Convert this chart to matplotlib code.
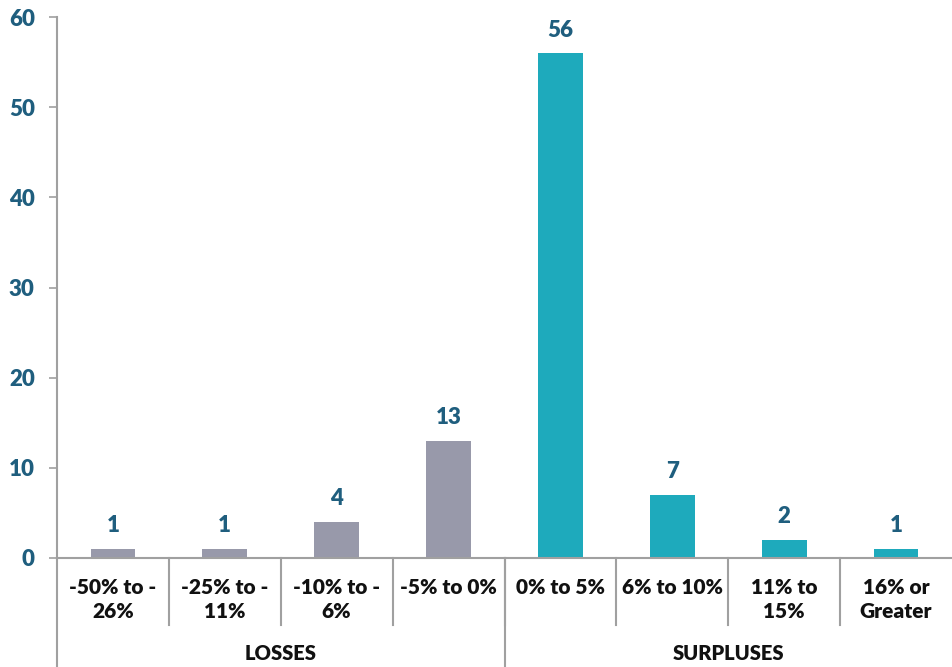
import matplotlib
matplotlib.use("Agg")
import matplotlib.pyplot as plt
from matplotlib.transforms import blended_transform_factory

categories = ["-50% to -\n26%", "-25% to -\n11%", "-10% to -\n6%", "-5% to 0%",
              "0% to 5%", "6% to 10%", "11% to\n15%", "16% or\nGreater"]
values = [1, 1, 4, 13, 56, 7, 2, 1]
groups = ["LOSSES", "SURPLUSES"]
group_sizes = [4, 4]
yticks = [0, 10, 20, 30, 40, 50, 60]

loss_color = "#9899AA"
surplus_color = "#1EAABC"
label_color = "#1F5E7E"
line_color = "#A0A0A0"
text_color = "#111111"

plt.rcParams["font.family"] = ["Lato", "DejaVu Sans"]

fig = plt.figure(figsize=(9.52, 6.67), dpi=100)
ax = fig.add_axes([57 / 952, 109 / 667, 1 - 57 / 952, 541 / 667])

colors = [loss_color] * group_sizes[0] + [surplus_color] * group_sizes[1]
x = list(range(len(values)))
bars = ax.bar(x, values, width=0.4, color=colors, zorder=2)

for xi, v in zip(x, values):
    ax.annotate(str(v), (xi, v), xytext=(0, 9), textcoords="offset points",
                ha="center", va="bottom", fontsize=16, fontweight="heavy",
                color=label_color)

ax.set_xlim(-0.5, len(values) - 0.5)
ax.set_ylim(0, 60)
ax.set_yticks(yticks)
ax.set_xticks([])
ax.tick_params(axis="y", direction="out", length=6, width=1.2, color=line_color,
               labelsize=16, labelcolor=label_color, pad=10)
for lbl in ax.get_yticklabels():
    lbl.set_fontweight("heavy")

for side in ["top", "right"]:
    ax.spines[side].set_visible(False)
for side in ["left", "bottom"]:
    ax.spines[side].set_color(line_color)
    ax.spines[side].set_linewidth(1.5)

trans = blended_transform_factory(ax.transData, ax.transAxes)

# Category labels and separators beneath the axis
for xi, cat in zip(x, categories):
    ax.text(xi, -0.037, cat, transform=trans, ha="center", va="top",
            fontsize=15, fontweight="heavy", color=text_color, linespacing=1.3)

cat_bottom = -67 / 541
group_bottom = -112 / 541
for k in range(1, len(values)):
    ax.plot([k - 0.5, k - 0.5], [0, cat_bottom], transform=trans, color=line_color,
            lw=1.5, clip_on=False)

# Group labels and separators
start = 0
for g, n in zip(groups, group_sizes):
    center = start + (n - 1) / 2
    ax.text(center, -96 / 541, g, transform=trans, ha="center", va="center",
            fontsize=14.5, fontweight="heavy", color=text_color)
    ax.plot([start - 0.5, start - 0.5], [0, group_bottom], transform=trans,
            color=line_color, lw=1.5, clip_on=False)
    start += n

fig.savefig("out.png", dpi=100)
